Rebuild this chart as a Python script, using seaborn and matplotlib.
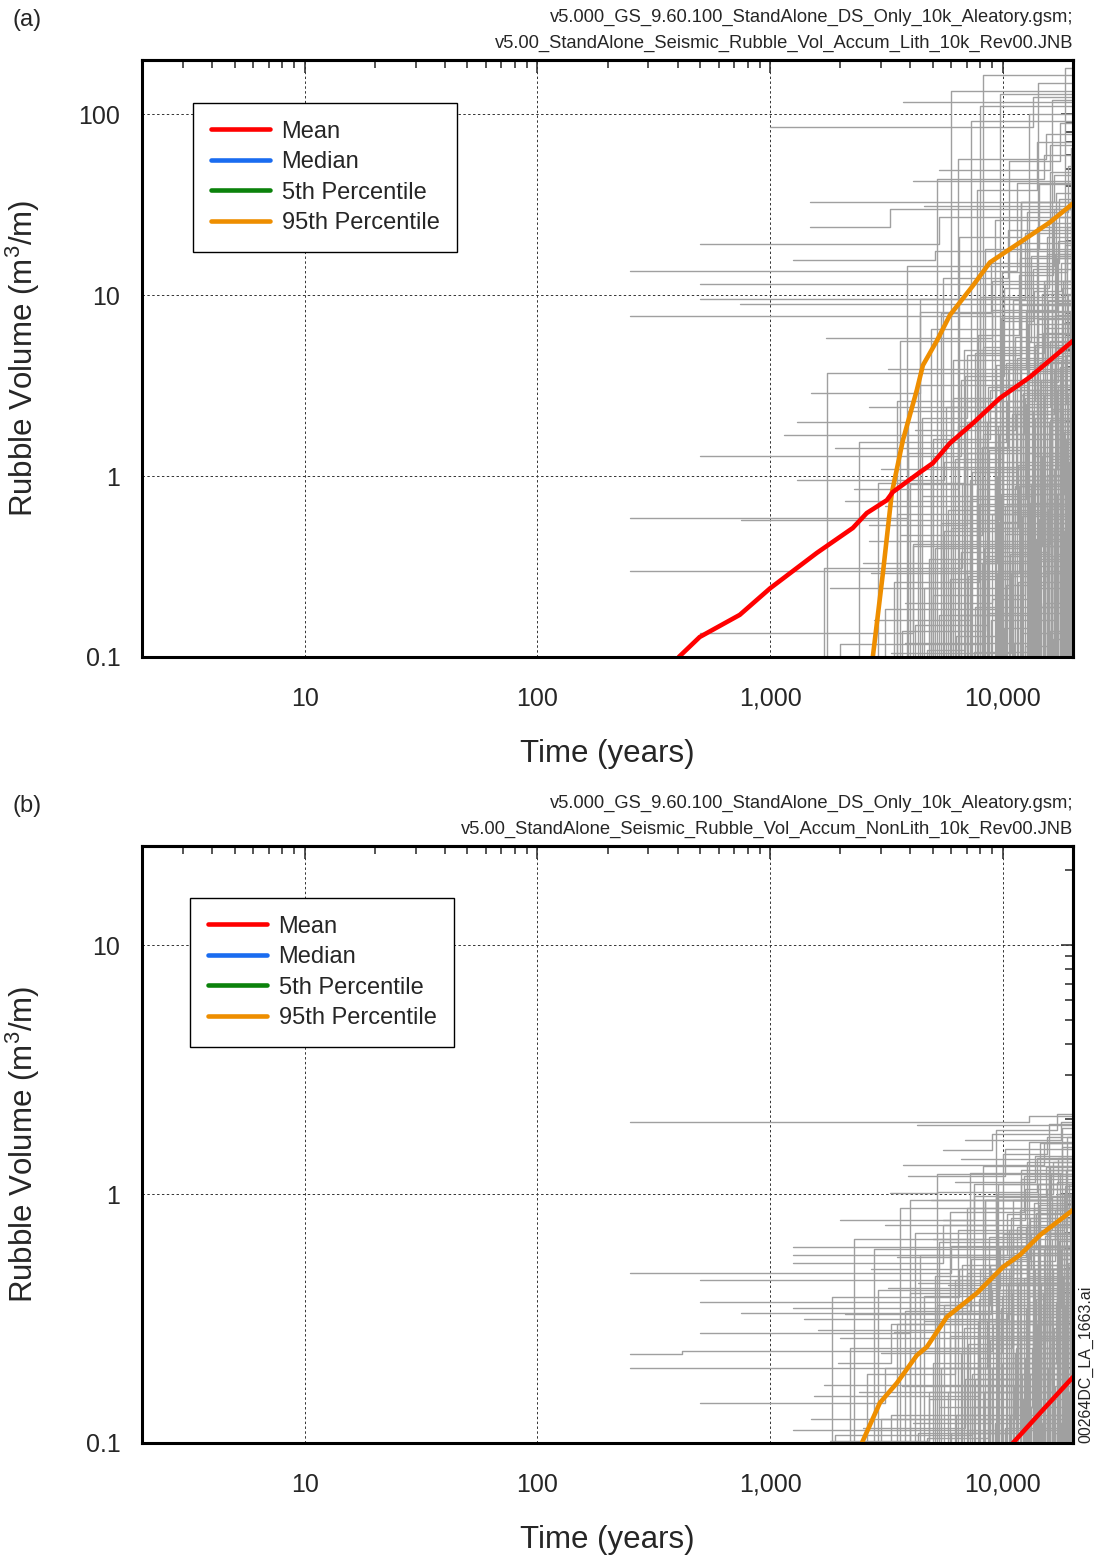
"""Seismic rubble volume accumulation: lithophysal (a) and nonlithophysal (b) zones."""

import matplotlib

matplotlib.use("Agg")
import matplotlib.pyplot as plt  # noqa: E402
import pandas as pd
import seaborn as sns
from matplotlib.lines import Line2D
from matplotlib.ticker import FixedFormatter, FixedLocator, LogLocator, NullFormatter

T_END = 20000

x_ticks = [10, 100, 1000, 10000]
x_labels = ["10", "100", "1,000", "10,000"]

# --- panel (a): lithophysal ---
lith_y_ticks = [0.1, 1, 10, 100]
lith_y_labels = ["0.1", "1", "10", "100"]
lith_header = [
    "v5.000_GS_9.60.100_StandAlone_DS_Only_10k_Aleatory.gsm;",
    "v5.00_StandAlone_Seismic_Rubble_Vol_Accum_Lith_10k_Rev00.JNB",
]
lith_mean_t = [405, 498, 740, 1000, 1585, 2265, 2600, 3170, 3365, 4395, 5000, 5915,
               7430, 9700, 13060, 20000]
lith_mean_v = [0.1, 0.129, 0.171, 0.240, 0.376, 0.517, 0.625, 0.736, 0.817, 1.05, 1.18,
               1.52, 1.96, 2.70, 3.53, 5.6]
lith_p95_t = [2760, 3050, 3330, 3717, 4266, 4530, 5200, 5915, 7430, 8790, 11830, 15900, 20000]
lith_p95_v = [0.1, 0.291, 0.805, 1.58, 2.99, 4.1, 5.6, 7.76, 11.3, 15.2, 19.6, 25.3, 32.2]

# individual realizations: (time, volume) steps, 0.01 = below the plotted range
lith_runs = [
    [(250, 13.7), (11500, 42.0)],
    [(250, 7.7)],
    [(250, 0.59), (3900, 2.3), (14000, 6.1)],
    [(250, 0.30), (7200, 0.95)],
    [(500, 19.1), (5300, 27.0)],
    [(500, 11.6), (15500, 17.0)],
    [(500, 9.6), (12500, 22.0)],
    [(500, 1.29), (6600, 3.4)],
    [(500, 0.136), (4100, 0.42), (16000, 1.8)],
    [(750, 0.57), (9600, 1.7)],
    [(740, 9.0)],
    [(1000, 85.0), (13500, 125.0)],
    [(1150, 1.68), (6100, 4.4)],
    [(1250, 15.6), (5100, 17.5)],
    [(1300, 1.99), (8800, 3.0)],
    [(1300, 0.95), (5600, 1.2)],
    [(1480, 32.7)],
    [(1480, 23.8), (3280, 29.9)],
    [(1500, 2.88), (4400, 8.1)],
    [(1600, 0.01), (1750, 3.7)],
    [(1700, 0.01), (1700, 0.31), (6700, 0.9)],
    [(1740, 5.8), (9000, 12.0)],
    [(1800, 0.24), (5400, 0.55)],
    [(1900, 1.43), (10500, 3.9)],
    [(2000, 0.01), (2000, 0.118), (8300, 0.34)],
    [(2100, 0.73), (7800, 2.3)],
    [(2200, 0.01), (3500, 2.6), (9800, 7.5)],
    [(2300, 0.85), (6400, 1.9)],
    [(2400, 0.01), (2400, 1.55), (10300, 4.2)],
    [(2500, 0.33), (9400, 1.0)],
    [(2650, 2.4), (8200, 5.2)],
    [(2650, 0.54), (7000, 2.0)],
    [(2650, 0.44)],
    [(2700, 0.29), (11700, 0.88)],
    [(2800, 0.16), (7300, 0.5)],
    [(2900, 0.01), (2900, 0.92), (6900, 2.6)],
    [(3000, 1.1), (12200, 2.9)],
    [(3100, 0.68)],
    [(3100, 0.01), (3100, 0.185), (9700, 0.52)],
    [(3200, 3.9), (12600, 8.2)],
    [(3300, 0.105), (10800, 0.29)],
    [(3500, 0.01), (3500, 0.62), (10000, 1.6)],
    [(3600, 0.47), (8100, 1.45)],
    [(3600, 0.01), (3600, 5.6), (13200, 16.5)],
    [(3700, 0.01), (3700, 0.14), (8400, 0.36)],
    [(3720, 117.0)],
    [(3800, 0.2), (9000, 0.62)],
    [(3800, 0.12), (12000, 0.5)],
    [(3900, 0.01), (3900, 1.35), (9300, 3.2)],
    [(4100, 43.0)],
    [(4100, 0.01), (4100, 0.41), (14700, 1.3)],
    [(4200, 1.8), (11300, 5.9)],
    [(4400, 0.01), (4400, 9.5), (11800, 19.5)],
    [(4500, 0.78), (13800, 2.1)],
    [(4600, 31.0)],
    [(4600, 0.01), (4600, 0.24), (10600, 0.7)],
    [(4900, 0.01), (4900, 1.12), (12400, 2.7)],
    [(5300, 49.0), (16000, 68.0)],
    [(5300, 0.01), (5300, 0.17), (13600, 0.48)],
    [(5700, 0.01), (5700, 2.4), (15100, 6.6)],
    [(6000, 0.01), (6000, 0.52), (11600, 1.15)],
    [(6600, 0.01), (6600, 0.38), (15800, 1.0)],
    [(7000, 0.01), (7000, 1.35), (17200, 3.2)],
    [(7600, 0.01), (7600, 0.19), (18900, 0.44)],
    [(8500, 0.01), (8500, 2.0), (16900, 5.1)],
    [(8700, 0.175)],
    [(3400, 0.01), (3400, 0.26), (7900, 0.7)],
    [(3890, 0.01), (3890, 14.5), (16500, 30.0)],
    [(4000, 0.01), (4000, 0.9), (7600, 4.8), (15000, 12.0)],
    [(4200, 0.01), (4200, 0.15), (8600, 0.62), (14400, 1.9)],
    [(4300, 0.01), (4300, 3.2), (11000, 9.4)],
    [(4500, 0.01), (4500, 2.1), (7000, 4.7), (12000, 8.8)],
    [(4700, 0.01), (4700, 0.11), (6900, 0.3), (13000, 0.85)],
    [(4800, 0.01), (4800, 0.35), (9200, 1.1), (17500, 2.7)],
    [(4900, 0.01), (4900, 6.5), (13000, 18.0)],
    [(5000, 0.01), (5000, 1.6), (8800, 2.1), (16800, 4.9)],
    [(5000, 0.01), (5000, 0.22), (12500, 0.9)],
    [(5100, 0.01), (5100, 0.4), (7700, 0.85), (11400, 2.2), (16500, 3.9)],
    [(5200, 0.01), (5200, 44.0), (15000, 60.0)],
    [(5400, 0.01), (5400, 8.0), (8900, 15.0), (17400, 34.0)],
    [(5500, 0.01), (5500, 12.5), (10500, 23.0)],
    [(5600, 0.01), (5600, 0.5), (8200, 1.7), (12300, 3.3), (17300, 9.1)],
    [(5800, 0.01), (5800, 0.65), (14500, 3.1)],
    [(5900, 0.01), (5900, 0.27), (10900, 0.95)],
    [(6000, 0.01), (6000, 135.0)],
    [(6100, 0.01), (6100, 2.7), (9000, 8.3), (17000, 16.0)],
    [(6200, 0.01), (6200, 1.25), (9900, 4.0), (14700, 10.2)],
    [(6300, 0.01), (6300, 0.13), (10200, 0.48), (18000, 1.4)],
    [(6400, 0.01), (6400, 57.0), (15300, 78.0)],
    [(6500, 0.01), (6500, 21.0), (12000, 33.0)],
    [(6600, 0.01), (6600, 0.17), (11000, 0.63), (16200, 2.35)],
    [(6800, 0.01), (6800, 5.0), (14200, 7.4)],
    [(6900, 0.01), (6900, 3.6), (10100, 11.0), (15800, 25.0)],
    [(7100, 0.01), (7100, 0.28), (15500, 0.75)],
    [(7200, 0.01), (7200, 0.75), (12600, 2.5), (18600, 4.7)],
    [(7300, 0.01), (7300, 92.0)],
    [(7400, 0.01), (7400, 1.05), (11500, 2.4), (16000, 5.6)],
    [(7500, 0.01), (7500, 0.107), (13100, 0.41), (19200, 1.2)],
    [(7700, 0.01), (7700, 38.0), (14000, 70.0)],
    [(7800, 0.01), (7800, 6.0), (11700, 13.0), (16400, 27.0)],
    [(7950, 0.01), (7950, 112.0)],
    [(8000, 0.01), (8000, 9.8), (18500, 19.0)],
    [(8100, 0.01), (8100, 0.33), (12900, 1.0), (17900, 3.4)],
    [(8200, 0.01), (8200, 165.0)],
    [(8300, 0.01), (8300, 0.4), (13500, 1.3)],
    [(8400, 0.01), (8400, 18.0), (14300, 41.0)],
    [(8600, 0.01), (8600, 3.1), (12800, 6.9)],
    [(8700, 0.01), (8700, 1.4), (11900, 2.8), (16700, 7.8)],
    [(8900, 0.01), (8900, 0.16), (17000, 0.55)],
    [(9000, 0.01), (9000, 0.21), (13800, 0.8), (18300, 1.75)],
    [(9200, 0.01), (9200, 26.0), (16000, 48.0)],
    [(9300, 0.01), (9300, 4.1), (15600, 9.3)],
    [(9400, 0.01), (9400, 0.29)],
    [(9500, 0.01), (9500, 1.9), (14500, 4.3)],
    [(9600, 0.01), (9600, 0.56), (12200, 1.1), (17100, 3.0)],
    [(9700, 0.01), (9700, 130.0)],
    [(9800, 0.01), (9800, 0.8), (18200, 2.2)],
    [(9900, 0.01), (9900, 13.5), (18900, 24.0)],
    [(10000, 0.01), (10000, 7.2), (13500, 14.0)],
    [(10100, 0.01), (10100, 0.145), (14100, 0.62)],
    [(10200, 0.01), (10200, 0.68), (18600, 1.6)],
    [(10300, 0.01), (10300, 0.25), (15200, 0.9)],
    [(10400, 0.01), (10400, 2.6), (13700, 5.3), (19100, 10.0)],
    [(10600, 0.01), (10600, 55.0), (17500, 90.0)],
    [(10700, 0.01), (10700, 0.37), (16100, 1.25)],
    [(10900, 0.01), (10900, 2.2), (16500, 3.6)],
    [(11000, 0.01), (11000, 9.0), (17300, 20.0)],
    [(11100, 0.01), (11100, 3.0)],
    [(11200, 0.01), (11200, 0.12), (14000, 0.35)],
    [(11300, 0.01), (11300, 0.88), (15900, 2.05)],
    [(11500, 0.01), (11500, 4.5), (18000, 11.0)],
    [(11600, 0.01), (11600, 0.26), (18700, 0.66)],
    [(11800, 0.01), (11800, 16.0)],
    [(11900, 0.01), (11900, 33.0), (16600, 46.0)],
    [(12000, 0.01), (12000, 0.135)],
    [(12100, 0.01), (12100, 0.6), (17500, 1.9)],
    [(12200, 0.01), (12200, 1.7), (17700, 4.4)],
    [(12400, 0.01), (12400, 1.35)],
    [(12500, 0.01), (12500, 0.115), (15700, 0.47)],
    [(12700, 0.01), (12700, 29.0), (19000, 52.0)],
    [(12800, 0.01), (12800, 5.5), (19400, 8.0)],
    [(12900, 0.01), (12900, 100.0)],
    [(13000, 0.01), (13000, 0.19), (16500, 0.7)],
    [(13100, 0.01), (13100, 0.71), (18100, 1.5)],
    [(13200, 0.01), (13200, 0.9)],
    [(13300, 0.01), (13300, 3.8)],
    [(13400, 0.01), (13400, 2.3), (16900, 4.8)],
    [(13600, 0.01), (13600, 10.5), (17800, 15.0)],
    [(13700, 0.01), (13700, 0.32), (19300, 1.05)],
    [(13900, 0.01), (13900, 0.45)],
    [(14000, 0.01), (14000, 24.0)],
    [(14100, 0.01), (14100, 0.24)],
    [(14200, 0.01), (14200, 150.0)],
    [(14300, 0.01), (14300, 0.58), (18400, 1.3)],
    [(14500, 0.01), (14500, 1.15), (19000, 2.6)],
    [(14600, 0.01), (14600, 3.4), (19500, 7.1)],
    [(14800, 0.01), (14800, 6.2)],
    [(14900, 0.01), (14900, 0.2), (17600, 0.6)],
    [(15000, 0.01), (15000, 2.8)],
    [(15100, 0.01), (15100, 0.3), (18800, 0.85)],
    [(15200, 0.01), (15200, 11.5)],
    [(15400, 0.01), (15400, 21.0)],
    [(15500, 0.01), (15500, 1.02), (19700, 1.9)],
    [(15600, 0.01), (15600, 0.66)],
    [(15700, 0.01), (15700, 2.0)],
    [(15800, 0.01), (15800, 0.41)],
    [(16000, 0.01), (16000, 0.14)],
    [(16100, 0.01), (16100, 4.6)],
    [(16200, 0.01), (16200, 120.0)],
    [(16300, 0.01), (16300, 8.8)],
    [(16400, 0.01), (16400, 0.125)],
    [(16500, 0.01), (16500, 1.1)],
    [(16600, 0.01), (16600, 0.52)],
    [(16700, 0.01), (16700, 17.0)],
    [(16900, 0.01), (16900, 37.0)],
    [(17000, 0.01), (17000, 0.8)],
    [(17100, 0.01), (17100, 0.37)],
    [(17200, 0.01), (17200, 1.6)],
    [(17300, 0.01), (17300, 2.5)],
    [(17500, 0.01), (17500, 4.0)],
    [(17600, 0.01), (17600, 0.3)],
    [(17700, 0.01), (17700, 2.1)],
    [(17800, 0.01), (17800, 0.23)],
    [(17900, 0.01), (17900, 7.0)],
    [(18100, 0.01), (18100, 12.0)],
    [(18200, 0.01), (18200, 0.15)],
    [(18300, 0.01), (18300, 0.5)],
    [(18400, 0.01), (18400, 180.0)],
    [(18500, 0.01), (18500, 1.3)],
    [(18700, 0.01), (18700, 0.95)],
    [(18800, 0.01), (18800, 30.0)],
    [(18900, 0.01), (18900, 1.55)],
    [(19000, 0.01), (19000, 2.9)],
    [(19100, 0.01), (19100, 0.55)],
    [(19300, 0.01), (19300, 0.38)],
    [(19400, 0.01), (19400, 3.5)],
    [(19500, 0.01), (19500, 0.75)],
    [(19600, 0.01), (19600, 65.0)],
    [(19700, 0.01), (19700, 0.2)],
    [(19800, 0.01), (19800, 6.0)],
    [(19900, 0.01), (19900, 14.0)],
]

# --- panel (b): nonlithophysal ---
nonlith_y_ticks = [0.1, 1, 10]
nonlith_y_labels = ["0.1", "1", "10"]
nonlith_header = [
    "v5.000_GS_9.60.100_StandAlone_DS_Only_10k_Aleatory.gsm;",
    "v5.00_StandAlone_Seismic_Rubble_Vol_Accum_NonLith_10k_Rev00.JNB",
]
nonlith_mean_t = [11040, 14870, 20000]
nonlith_mean_v = [0.1, 0.136, 0.184]
nonlith_p95_t = [2477, 2960, 3500, 4265, 4710, 5745, 7730, 10000, 11830, 14430, 20000]
nonlith_p95_v = [0.1, 0.145, 0.174, 0.225, 0.243, 0.321, 0.400, 0.509, 0.569, 0.684, 0.863]

nonlith_runs = [
    [(250, 1.95), (13000, 2.05)],
    [(250, 0.48), (6000, 0.62)],
    [(250, 0.227), (420, 0.235), (9000, 0.41)],
    [(250, 0.2), (8500, 0.31)],
    [(500, 0.45), (9500, 0.7)],
    [(500, 0.37), (14500, 0.52)],
    [(500, 0.277), (4000, 0.4)],
    [(500, 0.145), (3100, 0.2), (11000, 0.33)],
    [(750, 0.333), (11000, 0.58)],
    [(1250, 0.61), (16000, 0.9)],
    [(1250, 0.57)],
    [(1250, 0.53), (5500, 0.75)],
    [(1250, 0.35), (7000, 0.48)],
    [(1250, 0.113)],
    [(1400, 0.315), (10500, 0.44)],
    [(1500, 0.125)],
    [(1550, 0.155), (8000, 0.22)],
    [(1600, 0.284), (5200, 0.36)],
    [(1700, 0.171), (12000, 0.26)],
    [(1800, 0.102), (4800, 0.16)],
    [(1850, 0.01), (1850, 0.385), (6500, 0.5)],
    [(1900, 0.01), (1900, 0.108), (7400, 0.19)],
    [(1950, 0.21), (3300, 0.3)],
    [(2000, 0.79), (7500, 1.1)],
    [(2000, 0.265)],
    [(2100, 0.33), (8900, 0.5)],
    [(2200, 0.01), (2200, 0.24), (10900, 0.4)],
    [(2400, 0.16), (5900, 0.27)],
    [(2500, 0.115), (6900, 0.18)],
    [(2700, 0.5), (10000, 0.69)],
    [(2800, 0.01), (2800, 0.6), (13900, 0.84)],
    [(3000, 0.23), (9900, 0.39)],
    [(3000, 0.01), (3000, 0.125), (11300, 0.23)],
    [(3100, 0.75), (9300, 0.97)],
    [(3200, 0.42), (9700, 0.61)],
    [(3260, 1.01), (5200, 1.2)],
    [(3400, 0.28), (12900, 0.39)],
    [(3500, 0.56), (12600, 0.74)],
    [(3500, 0.01), (3500, 0.3), (8200, 0.46)],
    [(3700, 0.17), (14600, 0.28)],
    [(3720, 1.31), (15000, 1.6)],
    [(3900, 1.18), (10200, 1.52)],
    [(4000, 0.01), (4000, 0.95), (15700, 1.25)],
    [(4100, 0.12), (9000, 0.2)],
    [(4265, 1.9)],
    [(4300, 0.44)],
    [(4300, 0.01), (4300, 0.11), (12100, 0.19)],
    [(4600, 0.31), (14200, 0.5)],
    [(4600, 0.01), (4600, 0.39), (10800, 0.62)],
    [(4900, 0.95), (16100, 1.2)],
    [(5000, 0.66), (11800, 0.86)],
    [(5000, 0.01), (5000, 0.21), (16900, 0.37)],
    [(5300, 0.14), (13300, 0.24)],
    [(5300, 0.01), (5300, 0.64), (13600, 0.88)],
    [(5500, 1.5), (9000, 1.75)],
    [(5500, 0.79), (12500, 1.05)],
    [(5800, 0.43)],
    [(5800, 0.01), (5800, 0.16)],
    [(6200, 1.12), (13800, 1.42)],
    [(6200, 0.01), (6200, 0.45), (17400, 0.65)],
    [(6600, 1.38)],
    [(6600, 0.01), (6600, 0.23)],
    [(6900, 1.65), (17700, 1.95)],
    [(7000, 0.2), (16600, 0.29)],
    [(7000, 0.01), (7000, 0.88), (19300, 1.1)],
    [(7400, 0.01), (7400, 0.14), (14400, 0.26)],
    [(7800, 0.01), (7800, 0.31)],
    [(8100, 0.6)],
    [(8200, 0.01), (8200, 1.3)],
    [(8600, 0.01), (8600, 0.44)],
    [(9000, 0.01), (9000, 0.18)],
    [(9300, 0.01), (9300, 1.8), (17100, 2.1)],
    [(9400, 0.01), (9400, 0.7)],
    [(9800, 0.01), (9800, 0.28)],
    [(2300, 0.01), (2300, 0.66), (8400, 0.95)],
    [(2600, 0.01), (2600, 0.19), (6200, 0.34)],
    [(2900, 0.01), (2900, 0.41), (11500, 0.62)],
    [(3300, 0.01), (3300, 0.13), (7800, 0.27), (15500, 0.46)],
    [(3600, 0.01), (3600, 0.88), (12000, 1.25)],
    [(3800, 0.01), (3800, 0.34), (7300, 0.55), (13100, 0.8)],
    [(4000, 0.01), (4000, 0.24), (9600, 0.43)],
    [(4200, 0.01), (4200, 0.7), (9400, 1.0), (16400, 1.35)],
    [(4400, 0.01), (4400, 0.57), (10400, 0.83), (17000, 1.12)],
    [(4700, 0.01), (4700, 0.105), (8600, 0.25), (15100, 0.42)],
    [(4800, 0.01), (4800, 0.15), (13500, 0.3)],
    [(5100, 0.01), (5100, 0.47), (11100, 0.66)],
    [(5200, 0.01), (5200, 1.02), (14000, 1.4)],
    [(5400, 0.01), (5400, 0.2), (9800, 0.35), (17800, 0.6)],
    [(5600, 0.01), (5600, 0.36), (8800, 0.52)],
    [(5900, 0.01), (5900, 0.85), (12300, 1.18)],
    [(6000, 0.01), (6000, 0.11), (10800, 0.21)],
    [(6300, 0.01), (6300, 0.13), (11600, 0.28)],
    [(6400, 0.01), (6400, 0.72), (16200, 0.98)],
    [(6700, 0.01), (6700, 0.52), (10600, 0.72), (18300, 0.99)],
    [(6800, 0.01), (6800, 0.29), (12800, 0.47)],
    [(7100, 0.01), (7100, 0.25), (14600, 0.44)],
    [(7200, 0.01), (7200, 1.22), (18000, 1.55)],
    [(7500, 0.01), (7500, 0.98), (15300, 1.28)],
    [(7600, 0.01), (7600, 0.18), (15000, 0.37)],
    [(7900, 0.01), (7900, 0.38), (12700, 0.57)],
    [(8000, 0.01), (8000, 0.5), (13200, 0.7)],
    [(8300, 0.01), (8300, 0.16), (16300, 0.34)],
    [(8400, 0.01), (8400, 0.95)],
    [(8700, 0.01), (8700, 0.67), (14300, 0.9)],
    [(8800, 0.01), (8800, 0.26), (17500, 0.55)],
    [(9100, 0.01), (9100, 0.3), (19000, 0.51)],
    [(9200, 0.01), (9200, 0.12), (14800, 0.23)],
    [(9500, 0.01), (9500, 1.1), (17300, 1.4)],
    [(9600, 0.01), (9600, 0.62), (16800, 0.86)],
    [(9900, 0.01), (9900, 0.21)],
    [(10000, 0.01), (10000, 1.45), (15500, 1.7)],
    [(10200, 0.01), (10200, 0.115)],
    [(10300, 0.01), (10300, 0.54), (16700, 0.78)],
    [(10400, 0.01), (10400, 0.33)],
    [(10600, 0.01), (10600, 0.5)],
    [(10700, 0.01), (10700, 0.13)],
    [(10800, 0.01), (10800, 0.8), (18500, 1.08)],
    [(11000, 0.01), (11000, 0.95)],
    [(11100, 0.01), (11100, 0.36), (18700, 0.58)],
    [(11200, 0.01), (11200, 0.17), (16000, 0.32)],
    [(11400, 0.01), (11400, 0.24)],
    [(11500, 0.01), (11500, 0.74)],
    [(11600, 0.01), (11600, 0.44)],
    [(11800, 0.01), (11800, 0.62)],
    [(11900, 0.01), (11900, 0.27)],
    [(12000, 0.01), (12000, 1.15)],
    [(12200, 0.01), (12200, 0.15)],
    [(12300, 0.01), (12300, 0.46)],
    [(12400, 0.01), (12400, 0.22), (19000, 0.4)],
    [(12600, 0.01), (12600, 0.35)],
    [(12700, 0.01), (12700, 1.35)],
    [(12800, 0.01), (12800, 0.58)],
    [(12900, 0.01), (12900, 1.62)],
    [(13000, 0.01), (13000, 0.78)],
    [(13100, 0.01), (13100, 0.19)],
    [(13200, 0.01), (13200, 0.14)],
    [(13400, 0.01), (13400, 0.2)],
    [(13500, 0.01), (13500, 0.6)],
    [(13600, 0.01), (13600, 0.92)],
    [(13800, 0.01), (13800, 0.5)],
    [(13900, 0.01), (13900, 0.38)],
    [(14000, 0.01), (14000, 0.3)],
    [(14200, 0.01), (14200, 1.1)],
    [(14300, 0.01), (14300, 0.83)],
    [(14400, 0.01), (14400, 1.6)],
    [(14600, 0.01), (14600, 0.32)],
    [(14700, 0.01), (14700, 0.12)],
    [(14800, 0.01), (14800, 0.4)],
    [(15000, 0.01), (15000, 0.6)],
    [(15100, 0.01), (15100, 0.48)],
    [(15200, 0.01), (15200, 0.68)],
    [(15400, 0.01), (15400, 0.13)],
    [(15500, 0.01), (15500, 1.05)],
    [(15600, 0.01), (15600, 0.2)],
    [(15700, 0.01), (15700, 1.92)],
    [(15800, 0.01), (15800, 0.88)],
    [(15900, 0.01), (15900, 0.25)],
    [(16000, 0.01), (16000, 1.3)],
    [(16200, 0.01), (16200, 0.41)],
    [(16300, 0.01), (16300, 0.66)],
    [(16400, 0.01), (16400, 0.5)],
    [(16600, 0.01), (16600, 0.21)],
    [(16700, 0.01), (16700, 0.17)],
    [(16800, 0.01), (16800, 0.11)],
    [(17000, 0.01), (17000, 1.0)],
    [(17100, 0.01), (17100, 0.42)],
    [(17200, 0.01), (17200, 0.76)],
    [(17400, 0.01), (17400, 0.55)],
    [(17500, 0.01), (17500, 1.2)],
    [(17600, 0.01), (17600, 0.27)],
    [(17800, 0.01), (17800, 0.12)],
    [(17900, 0.01), (17900, 0.33)],
    [(18000, 0.01), (18000, 1.85)],
    [(18200, 0.01), (18200, 0.47)],
    [(18300, 0.01), (18300, 0.8)],
    [(18400, 0.01), (18400, 0.36)],
    [(18600, 0.01), (18600, 1.25)],
    [(18700, 0.01), (18700, 0.23)],
    [(18800, 0.01), (18800, 0.62)],
    [(18900, 0.01), (18900, 1.7)],
    [(19000, 0.01), (19000, 0.29)],
    [(19100, 0.01), (19100, 0.53)],
    [(19200, 0.01), (19200, 0.16)],
    [(19400, 0.01), (19400, 0.85)],
    [(19500, 0.01), (19500, 0.14)],
    [(19600, 0.01), (19600, 1.0)],
    [(19800, 0.01), (19800, 0.72)],
]

legend_labels = ["Mean", "Median", "5th Percentile", "95th Percentile"]
RED = "#ff0000"
BLUE = "#1a6cf0"
GREEN = "#0b820b"
ORANGE = "#ee8e00"
GRAY = "#a0a0a0"

FIG_W, FIG_H = 1095, 1559


def _runs_frame(runs):
    rows = []
    for i, run in enumerate(runs):
        for t, v in run:
            rows.append({"run": i, "t": t, "v": v})
        # hold the last value out to the end of the simulation
        rows.append({"run": i, "t": T_END, "v": run[-1][1]})
    return pd.DataFrame(rows)


def _log_minor():
    return LogLocator(base=10, subs=range(2, 10), numticks=30)


def _style_axes(ax, ymax, y_ticks, y_labels):
    ax.set_xscale("log")
    ax.set_yscale("log")
    ax.set_xlim(2, T_END)
    ax.set_ylim(0.1, ymax)
    ax.xaxis.set_major_locator(FixedLocator(x_ticks))
    ax.xaxis.set_major_formatter(FixedFormatter(x_labels))
    ax.xaxis.set_minor_locator(_log_minor())
    ax.xaxis.set_minor_formatter(NullFormatter())
    ax.yaxis.set_major_locator(FixedLocator(y_ticks))
    ax.yaxis.set_major_formatter(FixedFormatter(y_labels))
    ax.yaxis.set_minor_locator(_log_minor())
    ax.yaxis.set_minor_formatter(NullFormatter())
    ax.tick_params(which="major", direction="inout", length=19, width=1.2,
                   labelsize=18, color="black")
    ax.tick_params(axis="x", which="major", pad=12)
    ax.tick_params(axis="y", which="major", pad=6)
    ax.tick_params(which="minor", direction="in", length=6, width=1.1, color="black")
    ax.grid(True, which="major", color="#333333", ls=(0, (2.5, 2.5)), lw=0.7)
    ax.grid(False, which="minor")
    for sp in ax.spines.values():
        sp.set_linewidth(2.2)
        sp.set_color("black")

    # inward-only ticks along the top and right edges
    top = ax.secondary_xaxis("top")
    top.xaxis.set_major_locator(FixedLocator(x_ticks))
    top.xaxis.set_minor_locator(_log_minor())
    top.xaxis.set_major_formatter(NullFormatter())
    top.xaxis.set_minor_formatter(NullFormatter())
    right = ax.secondary_yaxis("right")
    right.yaxis.set_major_locator(FixedLocator(y_ticks))
    right.yaxis.set_minor_locator(_log_minor())
    right.yaxis.set_major_formatter(NullFormatter())
    right.yaxis.set_minor_formatter(NullFormatter())
    for sec in (top, right):
        sec.tick_params(which="both", direction="in", length=6, width=1.1)
        sec.tick_params(which="major", length=9)
        for sp in sec.spines.values():
            sp.set_linewidth(2.2)


def _draw_panel(ax, runs, mean_t, mean_v, p95_t, p95_v):
    sns.lineplot(data=_runs_frame(runs), x="t", y="v", units="run", estimator=None,
                 color=GRAY, lw=1.0, drawstyle="steps-post", ax=ax, legend=False)
    sns.lineplot(x=p95_t, y=p95_v, color=ORANGE, lw=3.3, ax=ax)
    sns.lineplot(x=mean_t, y=mean_v, color=RED, lw=3.3, ax=ax)


def _legend(ax, anchor):
    handles = [Line2D([], [], color=c, lw=3.3) for c in (RED, BLUE, GREEN, ORANGE)]
    leg = ax.legend(handles, legend_labels, loc="upper left", bbox_to_anchor=anchor,
                    fontsize=17, frameon=True, fancybox=False, framealpha=1,
                    edgecolor="black", handlelength=2.5, handletextpad=0.5,
                    labelspacing=0.36, borderpad=0.75, borderaxespad=0)
    leg.get_frame().set_linewidth(1.0)


sns.set_theme(style="white")
plt.rcParams["font.family"] = ["Liberation Sans", "DejaVu Sans"]
plt.rcParams["mathtext.default"] = "regular"

fig = plt.figure(figsize=(FIG_W / 100, FIG_H / 100), dpi=100)
ax_a = fig.add_axes([142 / FIG_W, 1 - 657 / FIG_H, 931 / FIG_W, 597 / FIG_H])
ax_b = fig.add_axes([142 / FIG_W, 1 - 1443 / FIG_H, 931 / FIG_W, 597 / FIG_H])

_draw_panel(ax_a, lith_runs, lith_mean_t, lith_mean_v, lith_p95_t, lith_p95_v)
_draw_panel(ax_b, nonlith_runs, nonlith_mean_t, nonlith_mean_v, nonlith_p95_t, nonlith_p95_v)
_style_axes(ax_a, 200, lith_y_ticks, lith_y_labels)
_style_axes(ax_b, 25, nonlith_y_ticks, nonlith_y_labels)
_legend(ax_a, (51 / 931, 1 - 43 / 597))
_legend(ax_b, (48 / 931, 1 - 52 / 597))

for ax in (ax_a, ax_b):
    ax.set_xlabel("Time (years)", fontsize=22.5)
    ax.set_ylabel("Rubble Volume (m$^{3}$/m)", fontsize=22.5)
    ax.xaxis.set_label_coords(0.5, -0.137)
    ax.yaxis.set_label_coords(-0.107, 0.5)

# panel tags and run identifiers
fig.text(12 / FIG_W, 1 - 20 / FIG_H, "(a)", fontsize=17, va="center", ha="left")
fig.text(12 / FIG_W, 1 - 806 / FIG_H, "(b)", fontsize=17, va="center", ha="left")
for top_px, lines in ((17, lith_header), (803, nonlith_header)):
    for k, line in enumerate(lines):
        fig.text(1073 / FIG_W, 1 - (top_px + 26 * k) / FIG_H, line, fontsize=13.2,
                 ha="right", va="center")
fig.text(1086 / FIG_W, 1 - 1443 / FIG_H, "00264DC_LA_1663.ai", fontsize=11.5,
         rotation=90, ha="center", va="bottom")

fig.savefig("out.png", dpi=100)
plt.close(fig)
